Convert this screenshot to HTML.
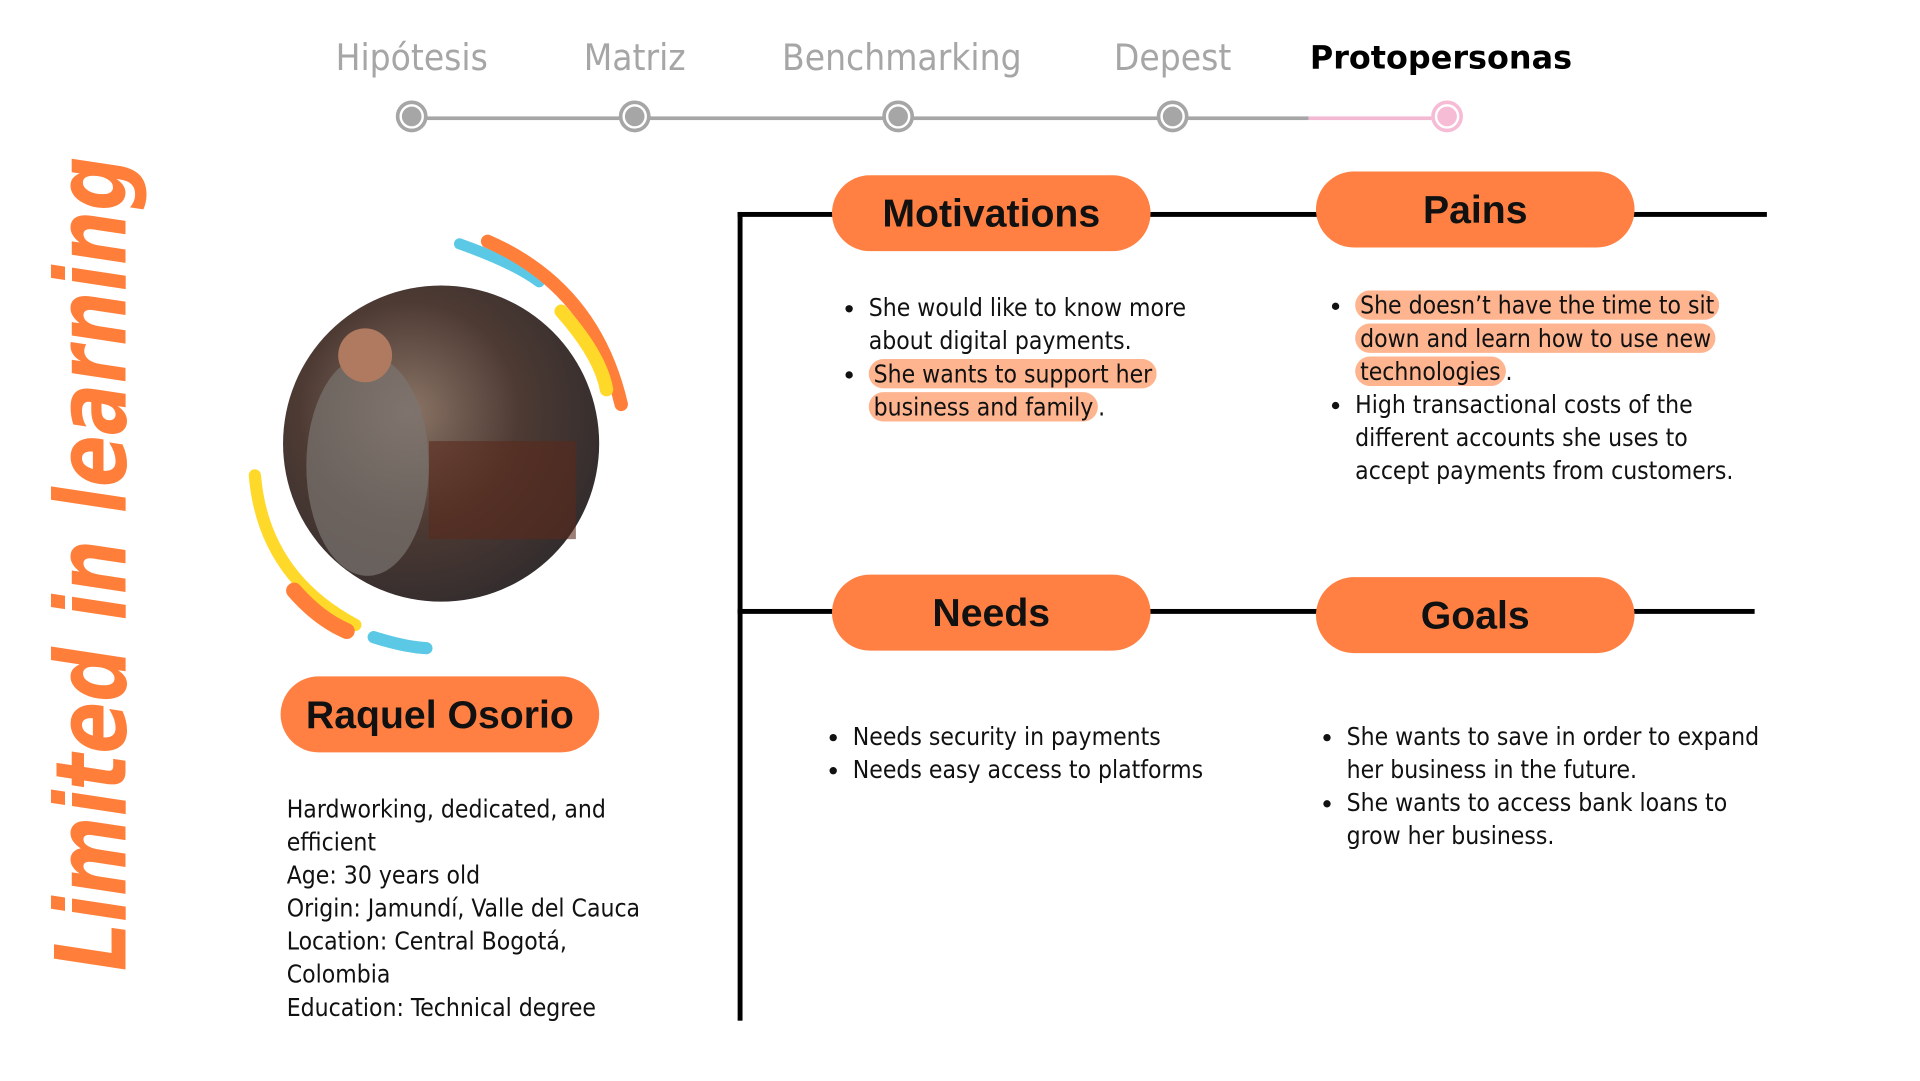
<!DOCTYPE html>
<html><head><meta charset="utf-8"><style>
html,body{margin:0;padding:0;background:#fff;width:1920px;height:1080px;overflow:hidden}
#w{position:absolute;left:0;top:0;width:1567px;height:882px;transform:scale(1.2253);transform-origin:0 0;font-family:"Liberation Sans",sans-serif}
.a{position:absolute}
.step{position:absolute;top:30px;font-size:30px;color:#a6a6a6;transform:translateX(-50%);white-space:nowrap;font-family:"DejaVu Sans Condensed","Liberation Sans",sans-serif}
.dot{position:absolute;top:85px;width:16px;height:16px;border-radius:50%;background:#a6a6a6;border:2px solid #fff;box-shadow:0 0 0 3px #a6a6a6;transform:translateX(-50%)}
.pill{position:absolute;background:#ff8042;border-radius:31px;width:260px;height:62px;text-align:center;line-height:62px;font-weight:bold;font-size:32px;color:#111}
.t{position:absolute;font-family:"DejaVu Sans Condensed","Liberation Sans",sans-serif;font-size:20px;line-height:27px;color:#111}
ul{margin:0;padding:0 0 0 18px}
.hl{background:#fdb48f;border-radius:12px;padding:0 4px;-webkit-box-decoration-break:clone;box-decoration-break:clone}
.ln{position:absolute;background:#000}
</style></head><body><div id="w">
<div class="step" style="left:336px">Hipótesis</div>
<div class="step" style="left:518px">Matriz</div>
<div class="step" style="left:736px">Benchmarking</div>
<div class="step" style="left:957px">Depest</div>
<div class="step" style="left:1176px;color:#000;font-weight:bold;font-family:'DejaVu Sans','Liberation Sans',sans-serif;font-size:26px;top:33px">Protopersonas</div>
<div class="a" style="left:336px;top:95px;width:732px;height:3px;background:#a6a6a6"></div>
<div class="a" style="left:1068px;top:95px;width:112px;height:3px;background:#f3b9d3"></div>
<div class="dot" style="left:336px"></div>
<div class="dot" style="left:518px"></div>
<div class="dot" style="left:733px"></div>
<div class="dot" style="left:957px"></div>
<div class="dot" style="left:1181px;background:#f6bcd6;box-shadow:0 0 0 3px #f6bcd6"></div>

<div class="a" style="left:75px;top:460px;transform:translate(-50%,-50%) rotate(-90deg) scaleX(0.78);white-space:nowrap;color:#ff7f3a;font-weight:bold;font-style:italic;font-size:80px;font-family:'DejaVu Sans','Liberation Sans',sans-serif">Limited in learning</div>

<svg class="a" style="left:190px;top:180px" width="340" height="370" viewBox="190 180 340 370">
<defs><radialGradient id="g" cx="40%" cy="40%" r="70%"><stop offset="0" stop-color="#8a7466"/><stop offset="0.5" stop-color="#4d3a33"/><stop offset="1" stop-color="#2e2a2c"/></radialGradient></defs>
<circle cx="360" cy="362" r="129" fill="url(#g)"/>
<rect x="350" y="360" width="120" height="80" fill="#5a2a1c" opacity=".6"/>
<ellipse cx="300" cy="380" rx="50" ry="90" fill="#7a7570" opacity=".7"/>
<circle cx="298" cy="290" r="22" fill="#b07a60"/>
<path d="M375 199 Q420 215 440 230" stroke="#5bc8e6" stroke-width="9" fill="none" stroke-linecap="round"/>
<path d="M398 197 Q485 235 507 330" stroke="#ff7f3a" stroke-width="11" fill="none" stroke-linecap="round"/>
<path d="M458 254 Q490 290 495 318" stroke="#ffd929" stroke-width="11" fill="none" stroke-linecap="round"/>
<path d="M208 388 Q215 470 290 510" stroke="#ffd929" stroke-width="10" fill="none" stroke-linecap="round"/>
<path d="M240 482 Q260 505 283 515" stroke="#ff7f3a" stroke-width="13" fill="none" stroke-linecap="round"/>
<path d="M305 520 Q330 528 348 529" stroke="#5bc8e6" stroke-width="10" fill="none" stroke-linecap="round"/>
</svg>
<div class="pill" style="left:229px;top:552px">Raquel Osorio</div>
<div class="t" style="left:234px;top:647px;width:300px">Hardworking, dedicated, and efficient<br>Age: 30 years old<br>Origin: Jamundí, Valle del Cauca<br>Location: Central Bogotá, Colombia<br>Education: Technical degree</div>

<div class="ln" style="left:602px;top:173px;width:4px;height:660px"></div>
<div class="ln" style="left:602px;top:173px;width:840px;height:4px"></div>
<div class="ln" style="left:602px;top:497px;width:830px;height:4px"></div>
<div class="pill" style="left:679px;top:143px">Motivations</div>
<div class="pill" style="left:1074px;top:140px">Pains</div>
<div class="pill" style="left:679px;top:469px">Needs</div>
<div class="pill" style="left:1074px;top:471px">Goals</div>

<div class="t" style="left:691px;top:238px;width:320px"><ul><li>She would like to know more about digital payments.</li><li><span class="hl">She wants to support her business and family</span>.</li></ul></div>
<div class="t" style="left:1088px;top:236px;width:340px"><ul><li><span class="hl">She doesn’t have the time to sit down and learn how to use new technologies</span>.</li><li>High transactional costs of the different accounts she uses to accept payments from customers.</li></ul></div>
<div class="t" style="left:678px;top:588px;width:340px"><ul><li>Needs security in payments</li><li>Needs easy access to platforms</li></ul></div>
<div class="t" style="left:1081px;top:588px;width:360px"><ul><li>She wants to save in order to expand her business in the future.</li><li>She wants to access bank loans to grow her business.</li></ul></div>
</div></body></html>
